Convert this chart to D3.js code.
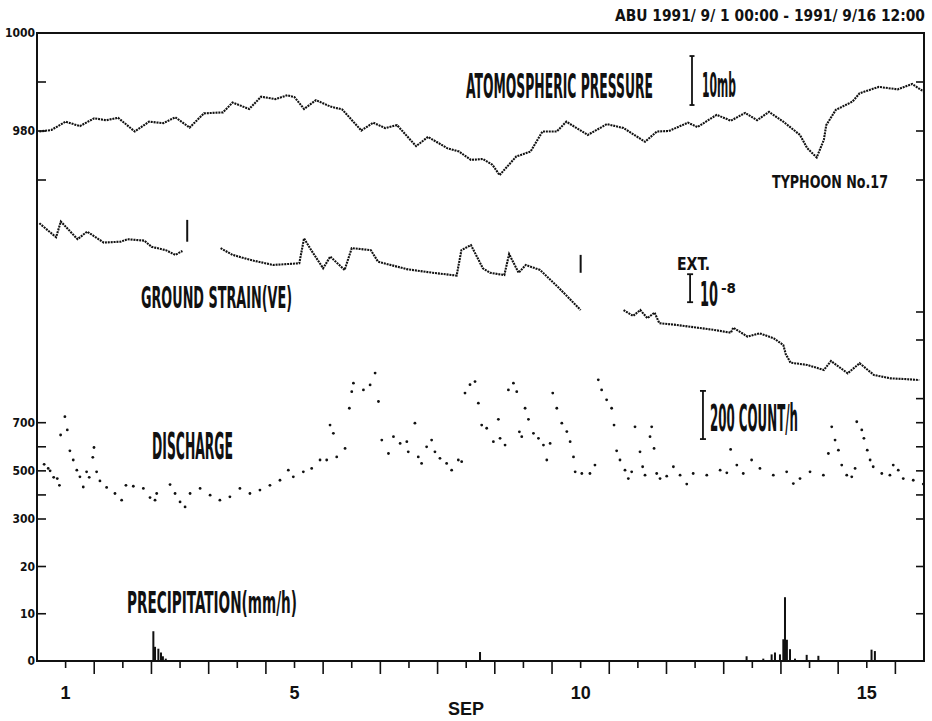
<!DOCTYPE html>
<html lang="en">
<head>
<meta charset="UTF-8">
<title>ABU 1991/9 observation record</title>
<script src="https://d3js.org/d3.v7.min.js"></script>
<style>
    body { margin: 0; background: #fff; }
    svg { display: block; background: #fff; }
    .frame { fill: none; stroke: #111; stroke-width: 2px; }
    .tick { stroke: #111; stroke-width: 1.6px; }
    .trace { fill: none; stroke: #111; stroke-width: 2.1px; stroke-dasharray: 2 0.9; }
    .mark { stroke: #111; stroke-width: 2px; }
    .bar { stroke: #111; stroke-width: 1.8px; fill: none; }
    .narrow { font-family: 'Liberation Sans Narrow', 'DejaVu Sans Condensed', sans-serif; font-weight: bold; fill: #111; }
    .day { font-family: 'Liberation Sans', Arial, sans-serif; font-weight: bold; font-size: 18px; fill: #111; }
</style>
</head>
<body>
<svg width="932" height="721"></svg>
<script>
// all times are hours counted from 1991/9/1 00:00
var totalHours = 372;

// atmospheric pressure (mb)
var pressure = [
  [1,979.9],[6,980.2],[12,981.9],[18,981.0],[24,982.6],[29,982.2],[34,982.7],[41,979.9],
  [47,981.9],[53,981.6],[58,982.8],[64,980.7],[70,983.6],[78,983.8],[82,985.8],[89,984.5],
  [94,987.0],[100,986.5],[105,987.3],[108,986.9],[112,984.5],[117,986.3],[123,985.0],[128,984.4],
  [136,980.1],[141,981.7],[146,980.6],[151,981.2],[159,976.9],[164,978.8],[172,976.5],[177,975.8],
  [182,974.1],[187,974.3],[191,973.1],[194,971.0],[201,974.8],[207,975.8],[212,979.9],[218,979.9],
  [222,981.9],[231,979.2],[239,981.4],[246,980.6],[255,977.8],[260,979.9],[265,980.0],[273,981.7],
  [277,980.8],[285,983.3],[291,982.1],[297,983.7],[302,982.2],[307,983.9],[313,981.9],[320,979.2],
  [323,976.5],[327,974.6],[330,978.2],[331,981.2],[335,984.3],[342,986.0],[345,987.7],[353,989.0],
  [361,988.5],[367,989.6],[372,988.0]
];

// ground strain (VE), units of 1e-8, null = break in record
var strain = [
  [1,4.17],[8,3.67],[10,4.23],[17,3.60],[21,3.87],[28,3.48],[35,3.51],[38,3.60],[45,3.55],
  [48,3.33],[54,3.21],[58,3.04],[61,3.18],[62,null],
  [77,3.28],[82,3.04],[91,2.83],[99,2.68],[110,2.74],[112,3.63],[115,3.21],[120,2.56],[123,2.98],
  [129,2.50],[132,3.28],[140,3.21],[143,2.80],[155,2.53],[166,2.40],[176,2.30],[178,3.21],[182,3.39],
  [187,2.56],[190,2.40],[196,2.32],[198,3.07],[202,2.40],[205,2.68],[211,2.50],[219,1.85],[228,1.07],
  [237,null],
  [246,1.07],[250,0.86],[253,1.07],[256,0.78],[259,0.98],[261,0.60],[268,0.54],[277,0.44],[284,0.36],
  [291,0.26],[292,0.44],[298,0.12],[303,0.24],[309,0.06],[313,-0.18],[314,-0.50],[316,-0.81],
  [323,-0.89],[330,-1.07],[333,-0.75],[340,-1.19],[345,-0.83],[351,-1.25],[358,-1.37],[365,-1.40],
  [370,-1.43]
];
// instrument marks on the strain trace: hour, top, bottom
var strainMarks = [[63,4.29,3.51],[228,3.04,2.40]];

// discharge (count/h)
var discharge = [
  [3,527],[4.7,510],[5.5,500],[7,473],[8.5,468],[9.4,440],[9.9,649],[11.7,725],[12.7,670],[13.8,583],
  [15.2,545],[16.7,503],[18,475],[19.4,433],[20.8,496],[21.9,473],[23.4,556],[23.9,597],[25,496],
  [26.4,458],[29.2,431],[32.7,406],[35.5,378],[37.3,440],[40.4,436],[44.6,427],[47.4,389],[49.5,378],
  [50.2,406],[55.8,443],[57.9,406],[60,371],[62.1,350],[64.2,406],[68.4,427],[72.6,399],[76.7,378],
  [80.9,392],[85.1,427],[89.3,406],[93.5,420],[97.7,440],[101.9,461],[105.4,503],[107.5,475],
  [111.7,496],[115.2,510],[118.7,545],[121.5,545],[122.9,690],[124.3,656],[125.7,558],[129.2,593],
  [131,760],[132,829],[132.7,864],[136.9,836],[139.7,857],[141.8,906],[143.2,788],[144.6,628],
  [147.4,572],[149.5,642],[152.3,614],[155.1,621],[155.7,579],[158.5,698],[159.9,558],[161.3,531],
  [163.4,600],[165.5,628],[166.9,579],[169,552],[171.8,531],[173.9,503],[176.7,545],[178.1,538],
  [179.5,823],[181.6,858],[183.7,871],[185.1,781],[186.5,690],[188.6,677],[191.4,621],[193.5,714],
  [194.2,635],[196.3,607],[197.7,836],[199.8,864],[201.2,829],[202.3,662],[203.3,642],[204.7,760],
  [206.1,714],[208.2,656],[210.3,635],[212.4,607],[213.8,545],[215.2,614],[216.3,823],[218,760],
  [220.1,698],[222.2,663],[223.6,621],[225,558],[225.7,496],[228.5,489],[231.9,489],[234,524],
  [235.4,878],[236.8,836],[238.9,795],[241,760],[242,690],[243.1,583],[244.5,545],[246.6,503],
  [248,468],[249.4,496],[250.8,683],[252.9,579],[254,517],[255,482],[257.1,642],[257.8,683],
  [258.8,593],[259.9,489],[261.3,468],[264.1,478],[266.9,517],[269.7,482],[272.5,445],[275.2,489],
  [280.9,482],[286.5,503],[289.3,492],[290.9,589],[293.5,524],[296.2,489],[299.7,545],[303.2,510],
  [308.8,482],[314.4,496],[317.2,447],[320,468],[324.2,496],[329.8,482],[331.9,572],[333.3,683],
  [334.7,628],[336.1,586],[337.5,524],[339.6,482],[341.7,475],[343.1,510],[343.8,704],[345.9,670],
  [346.8,635],[348.2,586],[349.4,545],[350.7,517],[354.3,489],[357.7,482],[359.1,524],[361.2,503],
  [363.3,468],[367.5,461],[371.7,445]
];

// precipitation (mm/h)
var rain = [
  [48.8,6.3],[49.5,3.0],[50.9,2.6],[52,1.8],[52.8,1.0],[54,0.5],[185.8,1.9],
  [297.6,1.0],[304.6,0.5],[308.1,1.4],[309.5,1.8],[311.6,1.4],[313,4.6],[313.7,13.5],[314.5,4.5],
  [315.8,2.5],[317.9,0.5],[322.8,1.3],[327.7,1.1],[350,2.4],[351.4,2.1]
];

// axis labels
var pressureLabels = [1000, 980], pressureMinor = [990, 970];
var dischargeLabels = [700, 500, 300], dischargeMinor = [600, 400];
var rainLabels = [20, 10, 0];
var strainTicks = [0, 1];
var dayLabels = [1, 5, 10, 15];

var plotLeft = 37, plotRight = 924, plotTop = 33, plotBottom = 661;

var svg = d3.select("svg");

var x = d3.scaleLinear().domain([0, totalHours]).range([plotLeft, plotRight]);
var yP = d3.scaleLinear().domain([1000, 970]).range([plotTop, 180]);
var yS = d3.scaleLinear().domain([0, 1]).range([340, 312]);
var yD = d3.scaleLinear().domain([700, 300]).range([422.7, 519]);
var yR = d3.scaleLinear().domain([0, 20]).range([plotBottom, 566.5]);

// frame
svg.append("rect").attr("class", "frame")
    .attr("x", plotLeft).attr("y", plotTop)
    .attr("width", plotRight - plotLeft).attr("height", plotBottom - plotTop);

// left axis ticks and labels
function leftTicks(values, scale, labelled) {
    values.forEach(function(v) {
        if (!(labelled && (v === 0 || v === 1000))) {
            svg.append("line").attr("class", "tick")
                .attr("x1", plotLeft).attr("x2", plotLeft + 9)
                .attr("y1", scale(v)).attr("y2", scale(v));
        }
        if (labelled) {
            svg.append("text").attr("class", "narrow")
                .attr("x", plotLeft - 2).attr("y", scale(v) + 4)
                .attr("text-anchor", "end")
                .style("font-size", "12px")
                .text(v);
        }
    });
}
leftTicks(pressureMinor, yP, false);
leftTicks(pressureLabels, yP, true);
leftTicks(dischargeLabels, yD, true);
leftTicks(dischargeMinor, yD, false);
leftTicks(rainLabels, yR, true);

// right axis ticks
function rightTicks(values, scale) {
    values.forEach(function(v) {
        svg.append("line").attr("class", "tick")
            .attr("x1", plotRight - 8).attr("x2", plotRight)
            .attr("y1", scale(v)).attr("y2", scale(v));
    });
}
rightTicks([990, 980, 970], yP);
rightTicks(strainTicks, yS);
rightTicks([800, 700, 600, 500, 400, 300], yD);
rightTicks([10, 20], yR);

// time axis: long ticks at 00:00, short at 12:00
d3.range(12, totalHours, 12).forEach(function(h) {
    svg.append("line").attr("class", "tick")
        .attr("x1", x(h)).attr("x2", x(h))
        .attr("y1", plotBottom).attr("y2", plotBottom + (h % 24 === 0 ? 13 : 7));
});
dayLabels.forEach(function(d) {
    svg.append("text").attr("class", "day")
        .attr("x", x((d - 1) * 24 + 12)).attr("y", 699)
        .attr("text-anchor", "middle")
        .text(d);
});
svg.append("text").attr("class", "day")
    .attr("x", 466).attr("y", 715)
    .attr("text-anchor", "middle")
    .text("SEP");

// pressure trace
var linePressure = d3.line()
    .x(function(d) { return x(d[0]); })
    .y(function(d) { return yP(d[1]); });
svg.append("path").attr("class", "trace").attr("d", linePressure(pressure));

// strain trace with breaks
var lineStrain = d3.line()
    .defined(function(d) { return d[1] !== null; })
    .x(function(d) { return x(d[0]); })
    .y(function(d) { return yS(d[1]); });
svg.append("path").attr("class", "trace").attr("d", lineStrain(strain));

svg.selectAll(".smark").data(strainMarks).enter().append("line")
    .attr("class", "mark")
    .attr("x1", function(d) { return x(d[0]); })
    .attr("x2", function(d) { return x(d[0]); })
    .attr("y1", function(d) { return yS(d[1]); })
    .attr("y2", function(d) { return yS(d[2]); });

// discharge dots
svg.selectAll(".dot").data(discharge).enter().append("circle")
    .attr("cx", function(d) { return x(d[0]); })
    .attr("cy", function(d) { return yD(d[1]); })
    .attr("r", 1.4)
    .attr("fill", "#111");

// precipitation bars
svg.selectAll(".rain").data(rain).enter().append("rect")
    .attr("x", function(d) { return x(d[0]) - 1; })
    .attr("y", function(d) { return yR(d[1]); })
    .attr("width", 2)
    .attr("height", function(d) { return yR(0) - yR(d[1]); })
    .attr("fill", "#111");

// scale bars (I-beam shape)
function scaleBar(xPos, y1, y2, cap) {
    svg.append("line").attr("class", "bar")
        .attr("x1", xPos).attr("x2", xPos).attr("y1", y1).attr("y2", y2);
    [y1, y2].forEach(function(yy) {
        svg.append("line").attr("class", "bar")
            .attr("x1", xPos - cap).attr("x2", xPos + cap).attr("y1", yy).attr("y2", yy);
    });
}
scaleBar(x(274.7), yP(995.3), yP(985.3), 2.5);
scaleBar(x(273.9), yS(2.35), yS(1.35), 3);
scaleBar(x(279.3), yD(832), yD(632), 3);

// labels
function label(txt, xPos, yPos, size, len) {
    return svg.append("text").attr("class", "narrow")
        .attr("x", xPos).attr("y", yPos)
        .attr("textLength", len)
        .attr("lengthAdjust", "spacingAndGlyphs")
        .style("font-size", size + "px")
        .text(txt);
}
label("ABU 1991/ 9/ 1 00:00 - 1991/ 9/16 12:00", 615, 21, 15, 310);
label("ATOMOSPHERIC PRESSURE", 466, 98, 33, 187);
label("10mb", 702, 97, 34, 34);
label("TYPHOON No.17", 772, 188, 18, 116);
label("GROUND STRAIN(VE)", 141, 308, 31, 151);
label("EXT.", 677, 270, 17, 33);
label("10", 700, 306, 33, 18);
label("-8", 721, 293, 14, 15);
label("DISCHARGE", 152, 459, 37, 81);
label("200 COUNT/h", 710, 431, 37, 88);
label("PRECIPITATION(mm/h)", 127, 613, 30, 170);
</script>
</body>
</html>
